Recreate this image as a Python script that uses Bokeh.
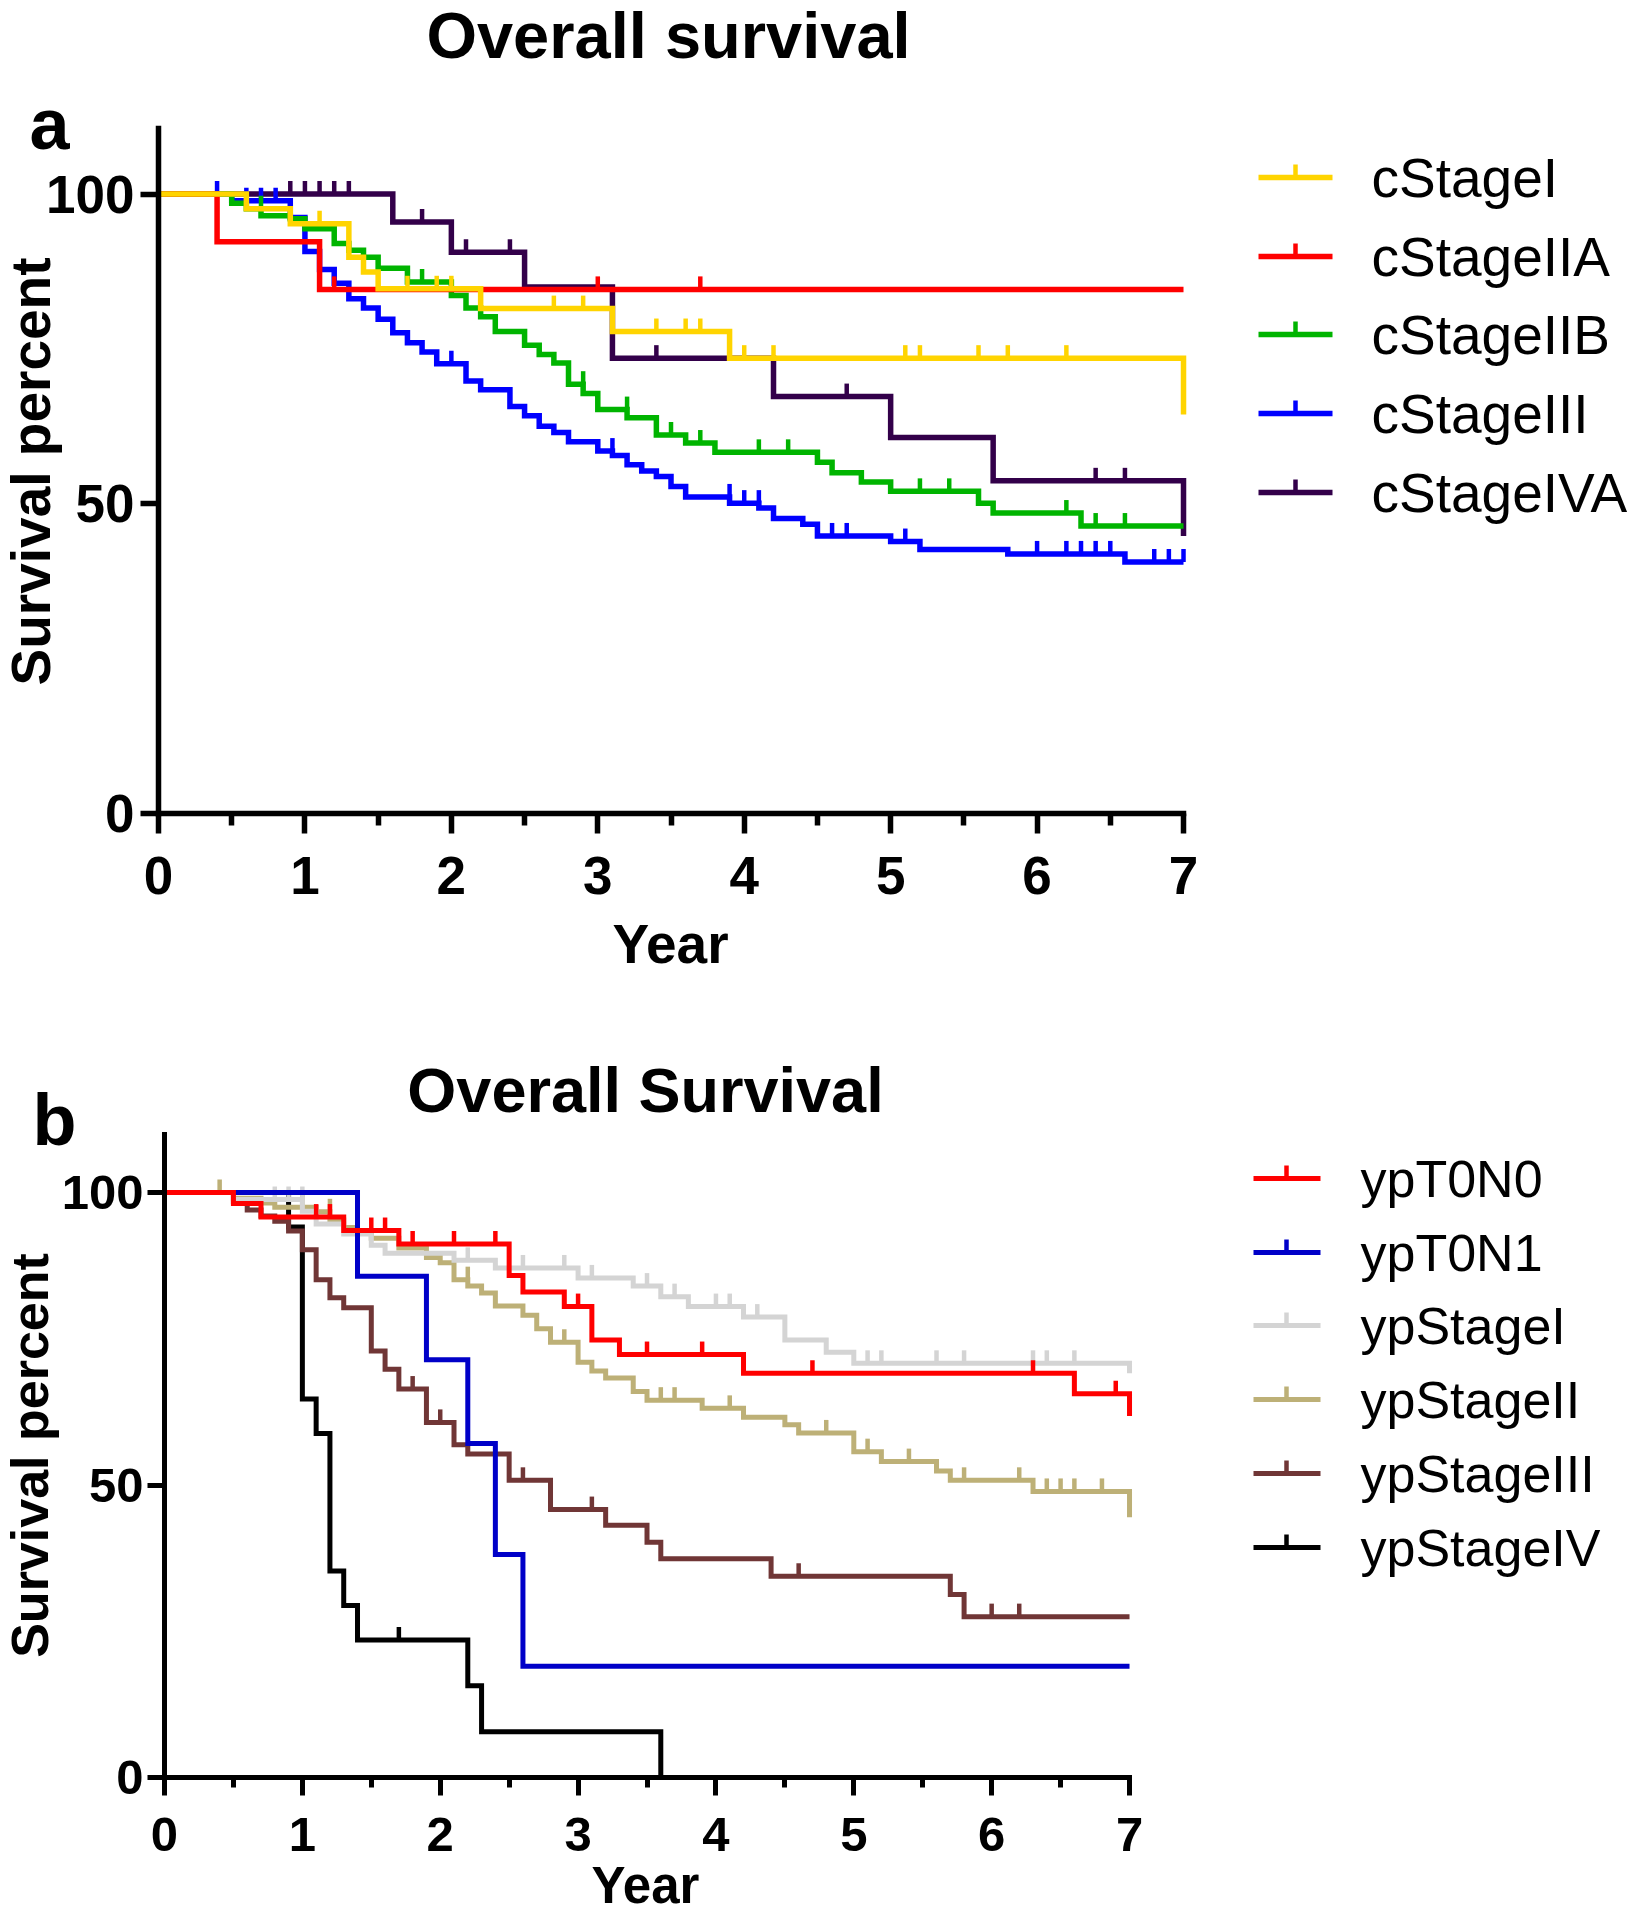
import math
from bokeh.plotting import figure
from bokeh.models import Range1d, FixedTicker
from bokeh.layouts import column
from bokeh.embed import file_html
from bokeh.resources import INLINE
from bokeh.core.properties import value

FONT = "Liberation Sans"

# ---------------- Panel a: clinical stage ----------------
a_names = ["cStageI", "cStageIIA", "cStageIIB", "cStageIII", "cStageIVA"]
a_colors = ["#FFD400", "#FF0000", "#00B400", "#0000FF", "#33004A"]

cI_times = [0.6, 0.9, 1.3, 1.4, 1.5, 2.2, 3.1, 3.9, 7.0]
cI_surv = [97.6, 95.2, 89.8, 87.4, 84.7, 81.5, 77.8, 73.5, 64.4]
cI_cens = [1.1, 1.7, 1.9, 2.0, 2.7, 2.9, 3.4, 3.6, 3.7, 4.0, 4.2, 5.1, 5.2, 5.6, 5.8, 6.2]

cIIA_times = [0.4, 1.1]
cIIA_surv = [92.3, 84.6]
cIIA_cens = [1.2, 3.0, 3.7]

cIIB_times = [0.5, 0.6, 0.7, 0.9, 1.0, 1.2, 1.3, 1.4, 1.5, 1.7, 2.0, 2.1, 2.2, 2.3, 2.5,
              2.6, 2.7, 2.8, 2.9, 3.0, 3.2, 3.4, 3.6, 3.8, 4.5, 4.6, 4.8, 5.0, 5.6, 5.7, 6.3]
cIIB_surv = [98.5, 97.6, 96.5, 96.0, 94.4, 92.0, 90.9, 89.8, 88.0, 85.8, 83.6, 81.6, 80.2, 77.8, 75.6,
             74.1, 72.7, 69.3, 67.8, 65.2, 63.9, 61.1, 59.8, 58.3, 56.7, 55.0, 53.5, 52.0, 50.1, 48.5, 46.4]
cIIB_cens = [0.7, 1.8, 2.9, 3.2, 3.5, 3.7, 4.1, 4.3, 5.2, 5.4, 6.2, 6.4, 6.6]

cIII_times = [0.5, 0.9, 1.0, 1.1, 1.2, 1.3, 1.4, 1.5, 1.6, 1.7, 1.8, 1.9, 2.1, 2.2, 2.4, 2.5, 2.6,
              2.7, 2.8, 3.0, 3.1, 3.2, 3.3, 3.4, 3.5, 3.6, 3.9, 4.1, 4.2, 4.4, 4.5, 5.0, 5.2, 5.8, 6.6]
cIII_surv = [98.9, 96.2, 90.7, 87.8, 85.6, 83.1, 81.6, 79.8, 77.6, 76.0, 74.5, 72.6, 69.8, 68.4, 65.7, 64.2, 62.5,
             61.5, 60.0, 58.5, 57.8, 56.3, 55.3, 54.4, 52.8, 51.1, 50.1, 49.3, 47.6, 46.7, 44.8, 43.9, 42.6, 41.9, 40.6]
cIII_cens = [0.4, 0.6, 0.7, 0.8, 2.0, 3.1, 3.9, 4.0, 4.1, 4.6, 4.7, 5.1, 6.0, 6.2, 6.3, 6.4, 6.5, 6.8, 6.9, 7.0]

cIVA_times = [1.6, 2.0, 2.5, 3.1, 4.2, 5.0, 5.7, 7.0]
cIVA_surv = [95.5, 90.6, 85.0, 73.5, 67.3, 60.7, 53.7, 44.8]
cIVA_cens = [0.9, 1.0, 1.1, 1.2, 1.3, 1.8, 2.1, 2.4, 3.4, 4.7, 6.4, 6.6]

a_times = [cI_times, cIIA_times, cIIB_times, cIII_times, cIVA_times]
a_surv = [cI_surv, cIIA_surv, cIIB_surv, cIII_surv, cIVA_surv]
a_cens = [cI_cens, cIIA_cens, cIIB_cens, cIII_cens, cIVA_cens]
a_end = [7.0, 7.0, 7.0, 7.0, 7.0]

# ---------------- Panel b: pathological stage ----------------
b_names = ["ypT0N0", "ypT0N1", "ypStageI", "ypStageII", "ypStageIII", "ypStageIV"]
b_colors = ["#FF0000", "#0000C8", "#D4D4D4", "#BDB077", "#703636", "#000000"]

t0n0_times = [0.5, 0.7, 1.3, 1.7, 2.5, 2.6, 2.9, 3.1, 3.3, 4.2, 6.6, 7.0]
t0n0_surv = [98.1, 95.8, 93.5, 91.2, 85.8, 83.0, 80.5, 74.8, 72.3, 69.1, 65.6, 61.8]
t0n0_cens = [1.1, 1.2, 1.5, 1.6, 1.8, 2.1, 2.4, 3.0, 3.5, 3.9, 4.7, 6.3, 6.9]

t0n1_times = [1.4, 1.9, 2.2, 2.4, 2.6]
t0n1_surv = [85.7, 71.4, 57.1, 38.1, 19.0]
t0n1_cens = []

ypI_times = [0.5, 1.0, 1.1, 1.3, 1.5, 1.6, 2.1, 2.4, 3.0, 3.4, 3.6, 3.8, 4.2, 4.5, 4.8, 5.0, 7.0]
ypI_surv = [98.8, 96.8, 94.6, 92.9, 91.0, 89.6, 88.4, 87.1, 85.4, 84.0, 82.2, 80.5, 78.7, 74.8, 72.7, 70.8, 69.1]
ypI_cens = [0.8, 0.9, 1.0, 2.2, 2.6, 2.9, 3.1, 3.5, 3.7, 4.0, 4.1, 4.3, 5.1, 5.2, 5.6, 5.8, 6.3, 6.4, 6.6]

ypII_times = [0.5, 0.7, 0.8, 1.1, 1.2, 1.3, 1.4, 1.5, 1.7, 1.9, 2.0, 2.1, 2.2, 2.3, 2.4, 2.6, 2.7,
              2.8, 3.0, 3.1, 3.2, 3.4, 3.5, 3.9, 4.2, 4.5, 4.6, 5.0, 5.2, 5.6, 5.7, 6.3, 7.0]
ypII_surv = [99.0, 98.2, 97.5, 96.7, 95.3, 94.0, 93.0, 92.2, 90.5, 88.9, 88.0, 85.1, 84.0, 82.8, 80.6, 79.0, 76.7,
             74.4, 71.0, 69.5, 68.3, 66.0, 64.5, 63.1, 61.6, 60.3, 58.9, 55.7, 54.0, 52.4, 50.8, 48.9, 44.5]
ypII_cens = [0.4, 1.0, 1.2, 2.2, 2.9, 3.6, 3.7, 4.1, 4.8, 5.1, 5.4, 5.8, 6.2, 6.4, 6.5, 6.6, 6.8]

ypIII_times = [0.5, 0.6, 0.7, 0.8, 0.9, 1.0, 1.1, 1.2, 1.3, 1.5, 1.6, 1.7, 1.9, 2.1, 2.2, 2.5, 2.8,
               3.2, 3.5, 3.6, 4.4, 5.7, 5.8]
ypIII_surv = [98.4, 97.0, 96.0, 95.1, 93.4, 90.2, 85.1, 82.0, 80.3, 72.9, 69.8, 66.4, 60.7, 56.9, 55.3, 50.8, 45.8,
              43.1, 40.2, 37.4, 34.4, 31.3, 27.5]
ypIII_cens = [1.8, 2.0, 2.6, 3.1, 4.6, 6.0, 6.2]

ypIV_times = [0.9, 1.0, 1.1, 1.2, 1.3, 1.4, 2.2, 2.3, 3.6]
ypIV_surv = [94.1, 64.7, 58.8, 35.3, 29.4, 23.5, 15.7, 7.8, 0.0]
ypIV_cens = [1.7]

b_times = [t0n0_times, t0n1_times, ypI_times, ypII_times, ypIII_times, ypIV_times]
b_surv = [t0n0_surv, t0n1_surv, ypI_surv, ypII_surv, ypIII_surv, ypIV_surv]
b_cens = [t0n0_cens, t0n1_cens, ypI_cens, ypII_cens, ypIII_cens, ypIV_cens]
b_end = [7.0, 7.0, 7.0, 7.0, 7.0, 3.6]

x_ticks = [0, 1, 2, 3, 4, 5, 6, 7]
x_minor = [0.5, 1.5, 2.5, 3.5, 4.5, 5.5, 6.5]
y_ticks = [0, 50, 100]

# the renderer draws "alphabetic" text this fraction of an em below the anchor
BASE_SHIFT = 0.4


def km_xy(times, surv, end):
    xs, ys = [0.0], [100.0]
    s = 100.0
    for t, v in zip(times, surv):
        xs += [t, t]
        ys += [s, v]
        s = v
    if xs[-1] < end:
        xs.append(end)
        ys.append(s)
    return xs, ys


def surv_at(times, surv, t):
    s = 100.0
    for tt, v in zip(times, surv):
        if tt < t - 1e-9:
            s = v
    return s


def make_panel(c):
    W, H, top = 1640, c["H"], c["fig_top"]
    X0, SX, Y0, SY = c["X0"], c["SX"], c["Y0"], c["SY"]

    def X(px):
        return (px - X0) / SX

    def Y(py):
        return (Y0 - py) / SY

    p = figure(width=W, height=H, output_backend="svg", toolbar_location=None,
               x_range=Range1d(X(0), X(W)), y_range=Range1d(Y(top + H), Y(top)),
               min_border=0, min_border_left=0, min_border_right=0,
               min_border_top=0, min_border_bottom=0)
    p.title.visible = False
    p.outline_line_color = None
    p.grid.visible = False
    p.background_fill_color = "white"
    p.border_fill_color = "white"

    xa = p.xaxis[0]
    ya = p.yaxis[0]
    xa.fixed_location = 0
    ya.fixed_location = 0
    xa.bounds = (0, 7)
    ya.bounds = (0, c["ytop"])
    xa.ticker = FixedTicker(ticks=x_ticks, minor_ticks=x_minor)
    ya.ticker = FixedTicker(ticks=y_ticks, minor_ticks=[])
    for ax in (xa, ya):
        ax.axis_line_width = c["axis_w"]
        ax.axis_line_color = "black"
        ax.axis_line_cap = "square"
        ax.major_tick_line_width = c["axis_w"]
        ax.minor_tick_line_width = c["axis_w"]
        ax.major_tick_line_color = "black"
        ax.minor_tick_line_color = "black"
        ax.major_tick_in = 0
        ax.minor_tick_in = 0
        ax.major_label_text_font = FONT
        ax.major_label_text_font_style = "bold"
        ax.major_label_text_font_size = c["tick_font"]
        ax.major_label_text_color = "black"
    xa.major_tick_out = c["xmaj"]
    xa.minor_tick_out = c["xmin"]
    xa.major_label_standoff = c["xstand"]
    ya.major_tick_out = c["ymaj"]
    ya.minor_tick_out = 0
    ya.major_label_standoff = c["ystand"]

    # survival curves (first series drawn last so it sits on top)
    tick_h = c["cens_px"] / SY
    n = len(c["times"])
    for i in reversed(range(n)):
        xs, ys = km_xy(c["times"][i], c["surv"][i], c["end"][i])
        col = c["colors"][i]
        p.line(xs, ys, line_color=col, line_width=c["lw"], line_join="miter")
        cx = c["cens"][i]
        if cx:
            cy0 = [surv_at(c["times"][i], c["surv"][i], t) for t in cx]
            cy1 = [v + tick_h for v in cy0]
            p.segment(x0=cx, y0=cy0, x1=cx, y1=cy1, line_color=col,
                      line_width=c["cw"], line_cap="butt")

    # legend
    rows = [Y(r) for r in c["leg_rows"]]
    k = len(c["names"])
    p.segment(x0=[X(c["leg_x0"])] * k, y0=rows, x1=[X(c["leg_x1"])] * k, y1=rows,
              line_color=c["colors"], line_width=c["lw"])
    p.segment(x0=[X(c["leg_xm"])] * k, y0=rows, x1=[X(c["leg_xm"])] * k,
              y1=[r + tick_h for r in rows], line_color=c["colors"], line_width=c["cw"],
              line_cap="butt")
    p.text(x=[X(c["leg_tx"])] * k, y=rows, text=c["names"], text_font=value(FONT),
           text_font_size=value("%dpx" % c["leg_font"]), text_baseline="middle", text_align="left",
           text_color="black")

    def bold_text(px, py, txt, size, align, angle=0.0):
        p.text(x=[X(px)], y=[Y(py)], text=[txt], angle=angle, text_font=value(FONT),
               text_font_style="bold", text_font_size=value("%dpx" % size),
               text_align=align, text_baseline="alphabetic", text_color="black")

    # titles, panel letter and axis titles (baseline positions corrected for renderer shift)
    bold_text(c["title_x"], c["title_y"] - BASE_SHIFT * c["title_font"], c["title"],
              c["title_font"], "center")
    bold_text(c["letter_x"], c["letter_y"] - BASE_SHIFT * c["letter_font"], c["letter"],
              c["letter_font"], "left")
    bold_text(c["ylab_x"] - BASE_SHIFT * c["ylab_font"], c["ylab_y"], "Survival percent",
              c["ylab_font"], "center", angle=math.pi / 2)
    bold_text(c["xlab_x"], c["xlab_y"] - BASE_SHIFT * c["xlab_font"], "Year",
              c["xlab_font"], "center")
    return p


cfg_a = dict(H=1000, fig_top=0, X0=158, SX=146.43, Y0=813, SY=6.195, ytop=110.5,
             axis_w=5.5, xmaj=20, xmin=12, ymaj=18, xstand=23, ystand=6, tick_font="53px",
             lw=5.5, cw=4.5, cens_px=13,
             times=a_times, surv=a_surv, cens=a_cens, end=a_end, colors=a_colors, names=a_names,
             leg_rows=[177, 256, 334, 413, 492], leg_x0=1258, leg_x1=1332, leg_xm=1295,
             leg_tx=1371, leg_font=55,
             title="Overall survival", title_x=668, title_y=61, title_font=65,
             letter="a", letter_x=29, letter_y=152, letter_font=72,
             ylab_x=52, ylab_y=471, ylab_font=55,
             xlab_x=670, xlab_y=965, xlab_font=55)

cfg_b = dict(H=920, fig_top=1000, X0=164, SX=137.86, Y0=1777, SY=5.85, ytop=110.0,
             axis_w=5, xmaj=18, xmin=10, ymaj=17, xstand=22, ystand=4, tick_font="49px",
             lw=5, cw=4.5, cens_px=13,
             times=b_times, surv=b_surv, cens=b_cens, end=b_end, colors=b_colors, names=b_names,
             leg_rows=[1178, 1252, 1325, 1399, 1473, 1547], leg_x0=1253, leg_x1=1320, leg_xm=1286,
             leg_tx=1360, leg_font=52,
             title="Overall Survival", title_x=645, title_y=1115, title_font=63,
             letter="b", letter_x=32, letter_y=1148, letter_font=72,
             ylab_x=50, ylab_y=1455, ylab_font=52,
             xlab_x=645, xlab_y=1905, xlab_font=51)

pa = make_panel(cfg_a)
pb = make_panel(cfg_b)

layout = column(pa, pb, spacing=0)

open("out.html", "w").write(file_html(layout, INLINE))
